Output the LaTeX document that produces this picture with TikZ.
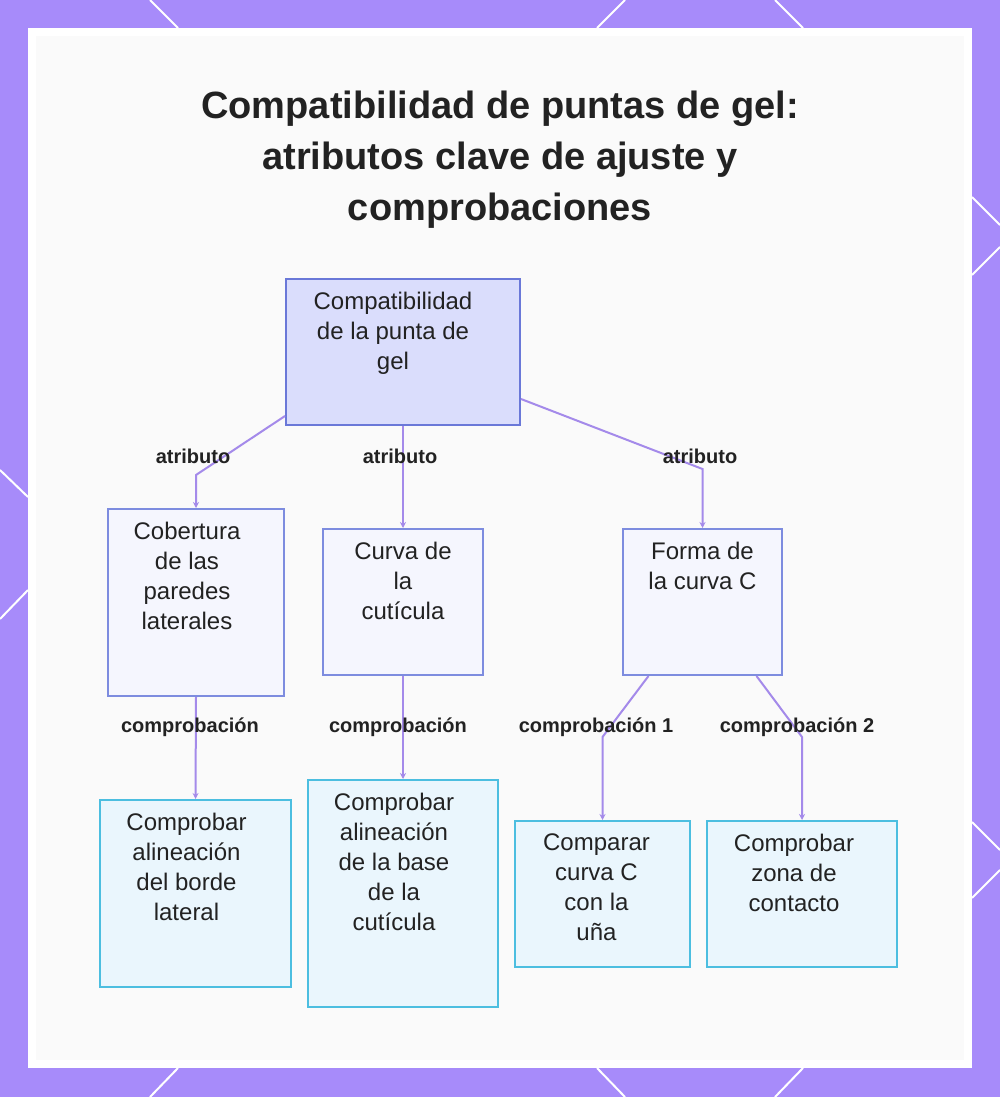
\documentclass[tikz,border=0pt]{standalone}
\usepackage{fontspec}
\setmainfont{Liberation Sans}
\usetikzlibrary{positioning,arrows.meta}
\definecolor{framepurple}{HTML}{A78BFA}
\definecolor{linkpurple}{HTML}{A48AEA}
\definecolor{panelgray}{HTML}{FAFAFA}
\definecolor{rootdraw}{HTML}{6A78D8}
\definecolor{rootfill}{HTML}{DADDFC}
\definecolor{attrdraw}{HTML}{7D8CDF}
\definecolor{attrfill}{HTML}{F5F6FE}
\definecolor{checkdraw}{HTML}{4CBEE0}
\definecolor{checkfill}{HTML}{EAF6FD}
\definecolor{textdark}{HTML}{222222}
\tikzset{
  rootbox/.style={draw=rootdraw, fill=rootfill, line width=2pt, inner sep=0pt},
  attrbox/.style={draw=attrdraw, fill=attrfill, line width=2pt, inner sep=0pt},
  checkbox/.style={draw=checkdraw, fill=checkfill, line width=2pt, inner sep=0pt},
  boxtext/.style={anchor=north, yshift=-14pt, inner sep=0pt, align=center,
                  font=\fontsize{24}{30}\selectfont, text=textdark},
  link/.style={->, line width=2pt, draw=linkpurple, >={Stealth[length=6pt,width=6pt]}},
  linklabel/.style={font=\bfseries\fontsize{20}{24}\selectfont, text=textdark, inner sep=0pt},
  decor/.style={draw=white, line width=2pt},
}

\begin{document}
\begin{tikzpicture}[x=1pt, y=-1pt]
  % frame and panel
  \fill[framepurple] (0,0) rectangle (1000,1097);
  \useasboundingbox (0,0) rectangle (1000,1097);
  \draw[decor] (150,0) -- (178,28);
  \draw[decor] (625,0) -- (597,28);
  \draw[decor] (775,0) -- (803,28);
  \draw[decor] (178,1068) -- (150,1097);
  \draw[decor] (597,1068) -- (625,1097);
  \draw[decor] (803,1068) -- (775,1097);
  \draw[decor] (0,470) -- (28,497);
  \draw[decor] (28,590) -- (0,619);
  \draw[decor] (972,197) -- (1000,225);
  \draw[decor] (1000,247) -- (972,275);
  \draw[decor] (972,822) -- (1000,850);
  \draw[decor] (1000,870) -- (972,898);
  \fill[white] (28,28) rectangle (972,1068);
  \fill[panelgray] (36,36) rectangle (964,1060);

  % title
  \node[anchor=north, align=center, inner sep=0pt, text=textdark,
        font=\bfseries\fontsize{38}{51}\selectfont] (title) at (500,91)
        {Compatibilidad de puntas de gel:\\atributos clave de ajuste y\\comprobaciones};

  % boxes
  \node[rootbox, minimum width=234pt, minimum height=146pt] (root) at (403,352) {};
  \node[attrbox, minimum width=176pt, minimum height=187pt] (cobertura) at (196,602.5) {};
  \node[attrbox, minimum width=160pt, minimum height=146pt] (curva) at (403,602) {};
  \node[attrbox, minimum width=159pt, minimum height=146pt] (forma) at (702.5,602) {};
  \node[checkbox, minimum width=191pt, minimum height=187pt] (borde) at (195.5,893.5) {};
  \node[checkbox, minimum width=190pt, minimum height=227pt] (base) at (403,893.5) {};
  \node[checkbox, minimum width=175pt, minimum height=146pt] (comparar) at (602.5,894) {};
  \node[checkbox, minimum width=190pt, minimum height=146pt] (zona) at (802,894) {};

  % box texts
  \node[boxtext, xshift=-10pt] (roottxt) at (root.north) {Compatibilidad\\de la punta de\\gel};
  \node[boxtext, xshift=-9pt] (coberturatxt) at (cobertura.north) {Cobertura\\de las\\paredes\\laterales};
  \node[boxtext] (curvatxt) at (curva.north) {Curva de\\la\\cutícula};
  \node[boxtext] (formatxt) at (forma.north) {Forma de\\la curva C};
  \node[boxtext, xshift=-9pt] (bordetxt) at (borde.north) {Comprobar\\alineación\\del borde\\lateral};
  \node[boxtext, xshift=-9pt] (basetxt) at (base.north) {Comprobar\\alineación\\de la base\\de la\\cutícula};
  \node[boxtext, xshift=-6pt] (comparartxt) at (comparar.north) {Comparar\\curva C\\con la\\uña};
  \node[boxtext, xshift=-8pt] (zonatxt) at (zona.north) {Comprobar\\zona de\\contacto};

  % connectors
  \draw[link] ([yshift=10pt]root.south west) -- ([yshift=33pt]cobertura.north) -- (cobertura.north);
  \draw[link] (root.south) -- (curva.north);
  \draw[link] ([yshift=27pt]root.south east) -- ([yshift=59pt]forma.north) -- (forma.north);
  \draw[link] (cobertura.south) -- (borde.north);
  \draw[link] (curva.south) -- (base.north);
  \draw[link] ([xshift=-54pt]forma.south) -- ([yshift=83pt]comparar.north) -- (comparar.north);
  \draw[link] ([xshift=54pt]forma.south) -- ([yshift=83pt]zona.north) -- (zona.north);

  % connector labels
  \node[linklabel] (lblcobertura) at (193,456) {atributo};
  \node[linklabel] (lblcurva) at (400,456) {atributo};
  \node[linklabel] (lblforma) at (700,456) {atributo};
  \node[linklabel] (lblborde) at (190,727) {comprobación};
  \node[linklabel] (lblbase) at (398,727) {comprobación};
  \node[linklabel] (lblcomparar) at (596,727) {comprobación 1};
  \node[linklabel] (lblzona) at (797,727) {comprobación 2};
\end{tikzpicture}
\end{document}
